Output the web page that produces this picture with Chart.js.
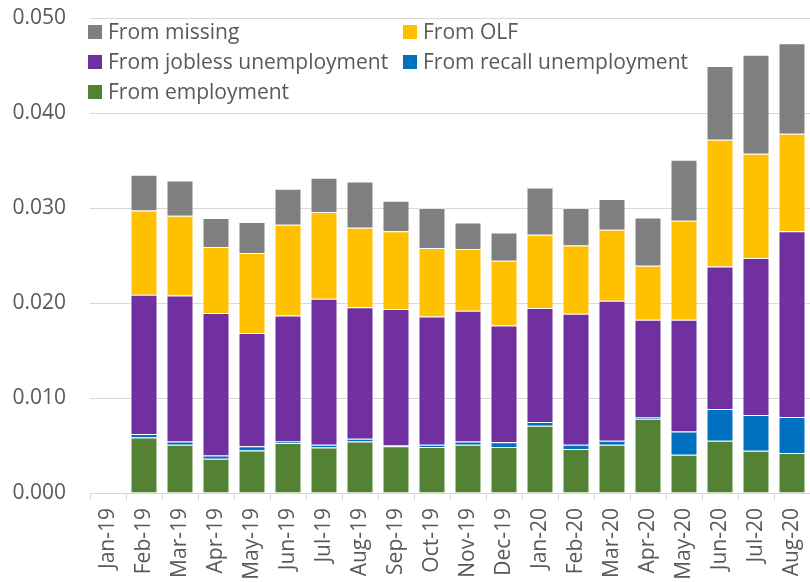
<!DOCTYPE html>
<html>
<head>
<meta charset="utf-8">
<script src="https://cdn.jsdelivr.net/npm/chart.js@4/dist/chart.umd.min.js"></script>
<style>
  html, body { margin: 0; padding: 0; background: #fff; }
  #wrap { width: 810px; height: 582px; position: relative; }
</style>
</head>
<body>
<div id="wrap"><canvas id="chart"></canvas></div>
<script>
const months = ["Jan-19", "Feb-19", "Mar-19", "Apr-19", "May-19", "Jun-19", "Jul-19",
  "Aug-19", "Sep-19", "Oct-19", "Nov-19", "Dec-19", "Jan-20", "Feb-20", "Mar-20",
  "Apr-20", "May-20", "Jun-20", "Jul-20", "Aug-20"];

// transition rates by origin state, stacked bottom to top
const fromEmployment = [null, 0.00585, 0.00508, 0.00361, 0.00448, 0.00526, 0.00480,
  0.00543, 0.00491, 0.00484, 0.00508, 0.00484, 0.00708, 0.00463, 0.00508,
  0.00782, 0.00403, 0.00551, 0.00445, 0.00421];
const fromRecall = [null, 0.00036, 0.00035, 0.00035, 0.00043, 0.00017, 0.00028,
  0.00029, 0.00010, 0.00024, 0.00035, 0.00049, 0.00039, 0.00045, 0.00043,
  0.00018, 0.00245, 0.00333, 0.00376, 0.00379];
const fromJobless = [null, 0.01466, 0.01537, 0.01499, 0.01193, 0.01326, 0.01537,
  0.01382, 0.01436, 0.01351, 0.01376, 0.01231, 0.01200, 0.01379, 0.01473,
  0.01024, 0.01176, 0.01501, 0.01653, 0.01954];
const fromOLF = [null, 0.00888, 0.00839, 0.00695, 0.00842, 0.00955, 0.00913,
  0.00839, 0.00817, 0.00720, 0.00649, 0.00681, 0.00772, 0.00719, 0.00748,
  0.00569, 0.01042, 0.01334, 0.01098, 0.01028];
const fromMissing = [null, 0.00375, 0.00371, 0.00305, 0.00327, 0.00379, 0.00361,
  0.00487, 0.00323, 0.00421, 0.00280, 0.00298, 0.00498, 0.00394, 0.00323,
  0.00508, 0.00642, 0.00776, 0.01042, 0.00951];

const yTicks = [0, 0.01, 0.02, 0.03, 0.04, 0.05];

const FONT = "'Open Sans', 'Liberation Sans', sans-serif";
const TEXT = "#595959";
const GRID = "#d9d9d9";

function series(label, data, color) {
  return {
    label, data,
    backgroundColor: color,
    borderColor: "rgba(255,255,255,0.35)",
    borderWidth: 1,
    barPercentage: 0.75,
    categoryPercentage: 1
  };
}

const datasets = [
  series("From employment", fromEmployment, "#548235"),
  series("From recall unemployment", fromRecall, "#0070c0"),
  series("From jobless unemployment", fromJobless, "#7030a0"),
  series("From OLF", fromOLF, "#ffc000"),
  series("From missing", fromMissing, "#808080")
];

// two-column legend drawn inside the plot, top to bottom of the stack
const legendOrder = [4, 3, 2, 1, 0];
const legendBlock = {
  id: "legendBlock",
  afterDatasetsDraw(chart) {
    const ctx = chart.ctx;
    ctx.save();
    ctx.font = "21px " + FONT;
    ctx.textBaseline = "middle";
    legendOrder.forEach((di, i) => {
      const ds = chart.data.datasets[di];
      const col = i % 2, row = Math.floor(i / 2);
      const x = 88 + col * 315;
      const y = 32 + row * 30;
      ctx.fillStyle = ds.backgroundColor;
      ctx.fillRect(x, y - 7, 14, 14);
      ctx.fillStyle = TEXT;
      ctx.fillText(ds.label, x + 20, y + 1);
    });
    ctx.restore();
  }
};

new Chart(document.getElementById("chart"), {
  type: "bar",
  data: { labels: months, datasets },
  plugins: [legendBlock],
  options: {
    responsive: true,
    maintainAspectRatio: false,
    animation: false,
    layout: { padding: { top: 18, right: 0, left: 0, bottom: 0 } },
    plugins: { legend: { display: false }, tooltip: { enabled: false } },
    scales: {
      x: {
        stacked: true,
        afterFit: (s) => {
          s.height = 89;
          s.paddingLeft = 0; s.paddingRight = 0;
        },
        grid: { drawOnChartArea: false, drawTicks: true, tickLength: 7, color: GRID, offset: true },
        border: { color: GRID },
        ticks: {
          color: TEXT, font: { family: FONT, size: 21 },
          minRotation: 90, maxRotation: 90, padding: 8, autoSkip: false
        }
      },
      y: {
        stacked: true,
        min: 0, max: 0.05,
        afterFit: (s) => {
          s.width = 90;
          s.paddingTop = 0; s.paddingBottom = 0;
        },
        afterBuildTicks: (s) => { s.ticks = yTicks.map((v) => ({ value: v })); },
        grid: { color: GRID, drawTicks: false },
        border: { display: false },
        ticks: {
          color: TEXT, font: { family: FONT, size: 21 }, padding: 24,
          callback: (v) => v.toFixed(3)
        }
      }
    }
  }
});
</script>
</body>
</html>
